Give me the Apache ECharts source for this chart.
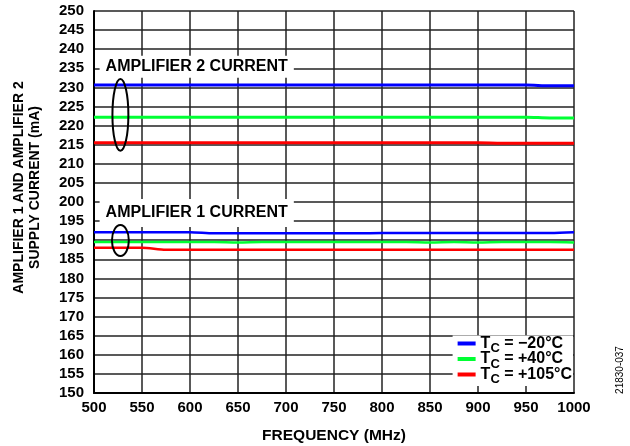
<!DOCTYPE html>
<html>
<head>
<meta charset="utf-8">
<script src="https://cdn.jsdelivr.net/npm/echarts@6/dist/echarts.min.js"></script>
<style>
  html, body { margin: 0; padding: 0; background: #fff; }
  #chart { width: 630px; height: 446px; }
</style>
</head>
<body>
<div id="chart"></div>
<script>
const freq = [500, 525, 550, 575, 600, 625, 650, 675, 700, 725, 750, 775, 800, 825, 850, 875, 900, 925, 950, 975, 1000];

// amplifier 2 current (mA)
const amp2Cold = [230.6, 230.6, 230.6, 230.6, 230.6, 230.6, 230.6, 230.6, 230.6, 230.6, 230.6, 230.6, 230.6, 230.6, 230.6, 230.6, 230.6, 230.6, 230.6, 230.4, 230.4];
const amp2Room = [222.2, 222.2, 222.2, 222.2, 222.2, 222.2, 222.2, 222.2, 222.2, 222.2, 222.2, 222.2, 222.2, 222.2, 222.2, 222.2, 222.2, 222.2, 222.2, 222.0, 222.0];
const amp2Hot = [215.5, 215.5, 215.5, 215.5, 215.5, 215.5, 215.5, 215.5, 215.5, 215.5, 215.5, 215.5, 215.5, 215.5, 215.5, 215.5, 215.5, 215.4, 215.4, 215.4, 215.4];

// amplifier 1 current (mA)
const amp1Cold = [192.1, 192.1, 192.1, 192.1, 192.1, 191.8, 191.8, 191.8, 191.8, 191.8, 191.8, 191.8, 191.9, 191.9, 191.9, 191.9, 191.9, 191.9, 191.9, 191.9, 192.1];
const amp1Room = [189.5, 189.5, 189.5, 189.5, 189.5, 189.5, 189.4, 189.5, 189.5, 189.5, 189.5, 189.5, 189.5, 189.5, 189.4, 189.5, 189.4, 189.5, 189.5, 189.5, 189.4];
const amp1Hot = [188.0, 188.0, 188.0, 187.5, 187.5, 187.5, 187.5, 187.5, 187.5, 187.5, 187.5, 187.5, 187.5, 187.5, 187.5, 187.5, 187.5, 187.5, 187.5, 187.5, 187.5];

const legendNames = ["−20°C", "+40°C", "+105°C"];
const colors = ["#0000ff", "#00ff33", "#ff0000"];

const chart = echarts.init(document.getElementById("chart"));
const font = "Liberation Sans";

function pairs(ys) {
  return freq.map((x, i) => [x, ys[i]]);
}

function lineSeries(name, ys, color, width) {
  return {
    name: name,
    type: "line",
    data: pairs(ys),
    symbol: "none",
    smooth: 0.3,
    lineStyle: { color: color, width: width },
    itemStyle: { color: color },
    z: 3,
  };
}

let option = {
  animation: false,
  grid: { left: 94, right: 56, top: 11, bottom: 53, outerBoundsMode: "none" },
  xAxis: {
    type: "value",
    min: 500,
    max: 1000,
    interval: 50,
    name: "FREQUENCY (MHz)",
    nameLocation: "middle",
    nameGap: 35,
    nameTextStyle: { fontFamily: font, fontWeight: "bold", fontSize: 15.5, color: "#000" },
    axisLine: { lineStyle: { color: "#000", width: 2 } },
    axisTick: { show: false },
    axisLabel: {
      fontFamily: font, fontWeight: "bold", fontSize: 15, color: "#000", margin: 7,
      formatter: (v) => String(v),
    },
    splitLine: { lineStyle: { color: "#222", width: 1.5 } },
  },
  yAxis: {
    type: "value",
    min: 150,
    max: 250,
    interval: 5,
    name: "AMPLIFIER 1 AND AMPLIFIER 2\nSUPPLY CURRENT (mA)",
    nameLocation: "middle",
    nameGap: 51,
    nameTextStyle: {
      fontFamily: font, fontWeight: "bold", fontSize: 14, color: "#000", lineHeight: 16,
      padding: [0, 0, 0, 29],
    },
    axisLine: { lineStyle: { color: "#000", width: 2 } },
    axisTick: { show: false },
    axisLabel: { fontFamily: font, fontWeight: "bold", fontSize: 15, color: "#000", margin: 10 },
    splitLine: { lineStyle: { color: "#222", width: 1.5 } },
  },
  legend: {
    orient: "vertical",
    right: 57,
    bottom: 60,
    itemWidth: 18,
    itemHeight: 4,
    itemGap: -4,
    padding: [0, 1, 0, 5],
    backgroundColor: "#fff",
    icon: "rect",
    data: legendNames,
    formatter: (n) => "{t|T}{s|C}{t| = " + n + "}",
    textStyle: {
      rich: {
        t: { fontFamily: font, fontWeight: "bold", fontSize: 16, color: "#000", lineHeight: 23, verticalAlign: "middle" },
        s: { fontFamily: font, fontWeight: "bold", fontSize: 13, color: "#000", lineHeight: 12, verticalAlign: "bottom" },
      },
    },
    z: 10,
  },
  series: [
    lineSeries(legendNames[0], amp2Cold, colors[0], 3),
    lineSeries(legendNames[1], amp2Room, colors[1], 3),
    lineSeries(legendNames[2], amp2Hot, colors[2], 3),
    lineSeries(legendNames[0], amp1Cold, colors[0], 2.5),
    lineSeries(legendNames[1], amp1Room, colors[1], 2.5),
    lineSeries(legendNames[2], amp1Hot, colors[2], 2.5),
  ],
};

chart.setOption(option);

// annotations placed from data coordinates
function px(x, y) {
  return chart.convertToPixel({ gridIndex: 0 }, [x, y]);
}

function label(text, x, y, pad) {
  const p = px(x, y);
  return {
    type: "text",
    x: p[0],
    y: p[1],
    z: 20,
    style: {
      text: text,
      fontFamily: font,
      fontWeight: "bold",
      fontSize: 16,
      fill: "#000",
      align: "center",
      verticalAlign: "middle",
      backgroundColor: "#fff",
      padding: pad,
    },
  };
}

function ring(cx, cy, dx, dy) {
  const c = px(cx, cy);
  const e = px(cx + dx, cy + dy);
  return {
    type: "ellipse",
    z: 20,
    shape: { cx: c[0], cy: c[1], rx: Math.abs(e[0] - c[0]), ry: Math.abs(c[1] - e[1]) },
    style: { fill: "none", stroke: "#000", lineWidth: 2 },
  };
}

chart.setOption({
  graphic: [
    label("AMPLIFIER 2 CURRENT", 607, 235.4, [3, 6, 3, 6]),
    label("AMPLIFIER 1 CURRENT", 607, 197.1, [6, 6, 6, 6]),
    ring(527.5, 222.8, 8.3, 9.4),
    ring(527.5, 189.9, 8.8, 4.05),
    {
      type: "text",
      x: 620,
      y: 370,
      rotation: Math.PI / 2,
      style: {
        text: "21830-037",
        fontFamily: font,
        fontSize: 10,
        fill: "#000",
        align: "center",
        verticalAlign: "middle",
      },
    },
  ],
});
</script>
</body>
</html>
